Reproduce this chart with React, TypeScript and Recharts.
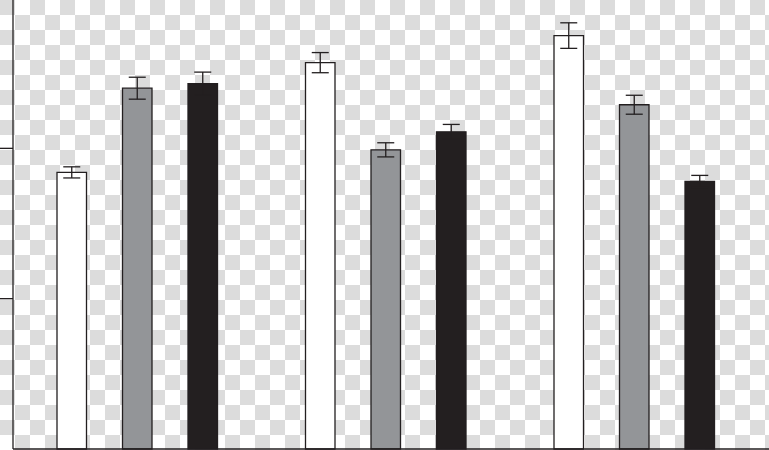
import React from 'react';
import { BarChart, Bar, XAxis, YAxis, ErrorBar } from 'recharts';

const categories = ['Group 1', 'Group 2', 'Group 3'];
const whiteValues = [1.84, 2.57, 2.75];
const whiteErrors = [0.037, 0.067, 0.085];
const greyValues = [2.4, 1.99, 2.29];
const greyErrors = [0.073, 0.047, 0.063];
const blackValues = [2.43, 2.11, 1.78];
const blackErrors = [0.077, 0.049, 0.04];
const yTicks = [0, 1, 2, 3];

const data = categories.map((name, i) => ({
  name,
  a: whiteValues[i],
  aErr: whiteErrors[i],
  b: greyValues[i],
  bErr: greyErrors[i],
  c: blackValues[i],
  cErr: blackErrors[i],
}));

const INK = '#231f20';

const EmptyTick = () => <g />;

export default function App() {
  return (
    <div
      style={{
        position: 'absolute',
        left: 0,
        top: 0,
        width: 769,
        height: 450,
        backgroundColor: '#ffffff',
        backgroundImage:
          'conic-gradient(#ffffff 25%, #dcdcdc 0 50%, #ffffff 0 75%, #dcdcdc 0)',
        backgroundSize: '30px 30px',
      }}
    >
      <BarChart
        width={769}
        height={450}
        data={data}
        margin={{ top: -2, right: 0, bottom: 0, left: 0 }}
        barGap={36}
      >
        <XAxis
          dataKey="name"
          height={1}
          padding={{ left: 0, right: 10.5 }}
          tick={false}
          tickLine={false}
          axisLine={{ stroke: INK, strokeWidth: 1.3 }}
        />
        <YAxis
          type="number"
          domain={[0, 3]}
          ticks={yTicks}
          width={13}
          tickSize={13}
          tick={<EmptyTick />}
          tickLine={{ stroke: INK, strokeWidth: 1.3 }}
          axisLine={{ stroke: INK, strokeWidth: 1.3 }}
        />
        <Bar dataKey="a" barSize={29.5} fill="#ffffff" stroke={INK} strokeWidth={1.3} isAnimationActive={false}>
          <ErrorBar dataKey="aErr" width={8.5} stroke={INK} strokeWidth={1.3} direction="y" isAnimationActive={false} />
        </Bar>
        <Bar dataKey="b" barSize={29.5} fill="#939598" stroke={INK} strokeWidth={1.3} isAnimationActive={false}>
          <ErrorBar dataKey="bErr" width={8.5} stroke={INK} strokeWidth={1.3} direction="y" isAnimationActive={false} />
        </Bar>
        <Bar dataKey="c" barSize={29.5} fill={INK} stroke={INK} strokeWidth={1.3} isAnimationActive={false}>
          <ErrorBar dataKey="cErr" width={8.5} stroke={INK} strokeWidth={1.3} direction="y" isAnimationActive={false} />
        </Bar>
      </BarChart>
    </div>
  );
}
